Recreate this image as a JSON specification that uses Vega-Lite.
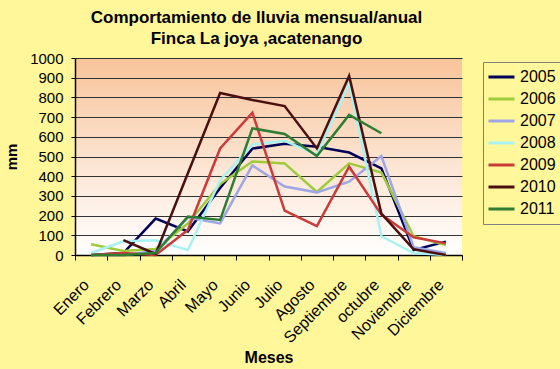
{
  "$schema": "https://vega.github.io/schema/vega-lite/v6.json",
  "width": 387,
  "height": 197,
  "autosize": {"type": "none"},
  "padding": {"left": 75, "top": 58, "right": 98, "bottom": 114},
  "background": "#FFF799",
  "title": {
    "text": ["Comportamiento de lluvia mensual/anual", "Finca La joya ,acatenango"],
    "font": "Liberation Sans",
    "fontSize": 17,
    "fontWeight": "bold",
    "color": "#000000",
    "anchor": "middle",
    "dx": -12,
    "offset": 3,
    "lineHeight": 21
  },
  "config": {
    "view": {
      "stroke": null,
      "fill": {
        "gradient": "linear",
        "x1": 0, "y1": 0, "x2": 0, "y2": 1,
        "stops": [
          {"offset": 0, "color": "#F8C49A"},
          {"offset": 0.5, "color": "#FCE2CE"},
          {"offset": 1, "color": "#FFFFFF"}
        ]
      }
    },
    "axis": {
      "labelFont": "Liberation Sans",
      "titleFont": "Liberation Sans",
      "labelColor": "#000000",
      "titleColor": "#000000",
      "domainColor": "#000000",
      "tickColor": "#000000"
    }
  },
  "data": {
    "values": [
      {"mes": "Enero", "anio": "2005", "mm": 0},
      {"mes": "Febrero", "anio": "2005", "mm": 10},
      {"mes": "Marzo", "anio": "2005", "mm": 185},
      {"mes": "Abril", "anio": "2005", "mm": 120},
      {"mes": "Mayo", "anio": "2005", "mm": 340},
      {"mes": "Junio", "anio": "2005", "mm": 540},
      {"mes": "Julio", "anio": "2005", "mm": 565},
      {"mes": "Agosto", "anio": "2005", "mm": 550},
      {"mes": "Septiembre", "anio": "2005", "mm": 520},
      {"mes": "octubre", "anio": "2005", "mm": 440},
      {"mes": "Noviembre", "anio": "2005", "mm": 25},
      {"mes": "Diciembre", "anio": "2005", "mm": 68},

      {"mes": "Enero", "anio": "2006", "mm": 55},
      {"mes": "Febrero", "anio": "2006", "mm": 20},
      {"mes": "Marzo", "anio": "2006", "mm": 30},
      {"mes": "Abril", "anio": "2006", "mm": 160},
      {"mes": "Mayo", "anio": "2006", "mm": 360},
      {"mes": "Junio", "anio": "2006", "mm": 475},
      {"mes": "Julio", "anio": "2006", "mm": 465},
      {"mes": "Agosto", "anio": "2006", "mm": 320},
      {"mes": "Septiembre", "anio": "2006", "mm": 465},
      {"mes": "octubre", "anio": "2006", "mm": 418},
      {"mes": "Noviembre", "anio": "2006", "mm": 95},
      {"mes": "Diciembre", "anio": "2006", "mm": 50},

      {"mes": "Enero", "anio": "2007", "mm": 0},
      {"mes": "Febrero", "anio": "2007", "mm": 0},
      {"mes": "Marzo", "anio": "2007", "mm": 20},
      {"mes": "Abril", "anio": "2007", "mm": 190},
      {"mes": "Mayo", "anio": "2007", "mm": 160},
      {"mes": "Junio", "anio": "2007", "mm": 455},
      {"mes": "Julio", "anio": "2007", "mm": 348},
      {"mes": "Agosto", "anio": "2007", "mm": 318},
      {"mes": "Septiembre", "anio": "2007", "mm": 372},
      {"mes": "octubre", "anio": "2007", "mm": 502},
      {"mes": "Noviembre", "anio": "2007", "mm": 40},
      {"mes": "Diciembre", "anio": "2007", "mm": 10},

      {"mes": "Enero", "anio": "2008", "mm": 10},
      {"mes": "Febrero", "anio": "2008", "mm": 70},
      {"mes": "Marzo", "anio": "2008", "mm": 75},
      {"mes": "Abril", "anio": "2008", "mm": 25},
      {"mes": "Mayo", "anio": "2008", "mm": 380},
      {"mes": "Junio", "anio": "2008", "mm": 560},
      {"mes": "Julio", "anio": "2008", "mm": 580},
      {"mes": "Agosto", "anio": "2008", "mm": 510},
      {"mes": "Septiembre", "anio": "2008", "mm": 870},
      {"mes": "octubre", "anio": "2008", "mm": 95},
      {"mes": "Noviembre", "anio": "2008", "mm": 10},
      {"mes": "Diciembre", "anio": "2008", "mm": 0},

      {"mes": "Enero", "anio": "2009", "mm": 0},
      {"mes": "Febrero", "anio": "2009", "mm": 10},
      {"mes": "Marzo", "anio": "2009", "mm": 0},
      {"mes": "Abril", "anio": "2009", "mm": 127},
      {"mes": "Mayo", "anio": "2009", "mm": 541},
      {"mes": "Junio", "anio": "2009", "mm": 722},
      {"mes": "Julio", "anio": "2009", "mm": 225},
      {"mes": "Agosto", "anio": "2009", "mm": 147},
      {"mes": "Septiembre", "anio": "2009", "mm": 448},
      {"mes": "octubre", "anio": "2009", "mm": 205},
      {"mes": "Noviembre", "anio": "2009", "mm": 90},
      {"mes": "Diciembre", "anio": "2009", "mm": 59},

      {"mes": "Febrero", "anio": "2010", "mm": 75},
      {"mes": "Marzo", "anio": "2010", "mm": 5},
      {"mes": "Abril", "anio": "2010", "mm": 415},
      {"mes": "Mayo", "anio": "2010", "mm": 822},
      {"mes": "Junio", "anio": "2010", "mm": 787},
      {"mes": "Julio", "anio": "2010", "mm": 756},
      {"mes": "Agosto", "anio": "2010", "mm": 541},
      {"mes": "Septiembre", "anio": "2010", "mm": 909},
      {"mes": "octubre", "anio": "2010", "mm": 210},
      {"mes": "Noviembre", "anio": "2010", "mm": 29},
      {"mes": "Diciembre", "anio": "2010", "mm": 0},

      {"mes": "Enero", "anio": "2011", "mm": 0},
      {"mes": "Febrero", "anio": "2011", "mm": 0},
      {"mes": "Marzo", "anio": "2011", "mm": 10},
      {"mes": "Abril", "anio": "2011", "mm": 195},
      {"mes": "Mayo", "anio": "2011", "mm": 178},
      {"mes": "Junio", "anio": "2011", "mm": 643},
      {"mes": "Julio", "anio": "2011", "mm": 614},
      {"mes": "Agosto", "anio": "2011", "mm": 502},
      {"mes": "Septiembre", "anio": "2011", "mm": 711},
      {"mes": "octubre", "anio": "2011", "mm": 618}
    ]
  },
  "mark": {"type": "line", "strokeWidth": 2.5, "strokeJoin": "miter"},
  "encoding": {
    "x": {
      "field": "mes",
      "type": "nominal",
      "sort": ["Enero", "Febrero", "Marzo", "Abril", "Mayo", "Junio", "Julio", "Agosto", "Septiembre", "octubre", "Noviembre", "Diciembre"],
      "scale": {"type": "band", "paddingInner": 0, "paddingOuter": 0},
      "axis": {
        "title": "Meses",
        "titleFontSize": 16,
        "titleFontWeight": "bold",
        "titlePadding": 4,
        "labelAngle": -45,
        "labelAlign": "right",
        "labelBaseline": "middle",
        "labelFontSize": 16,
        "labelPadding": 22,
        "labelOffset": -5,
        "tickBand": "extent",
        "tickSize": 5,
        "grid": false,
        "domainWidth": 1.5
      }
    },
    "y": {
      "field": "mm",
      "type": "quantitative",
      "scale": {"domain": [0, 1000]},
      "axis": {
        "title": "mm",
        "titleFontSize": 15,
        "titleFontWeight": "bold",
        "titlePadding": 10,
        "format": "d",
        "values": [0, 100, 200, 300, 400, 500, 600, 700, 800, 900, 1000],
        "labelFontSize": 15,
        "labelPadding": 8,
        "tickSize": 4,
        "grid": true,
        "gridColor": "#333333",
        "gridWidth": 1.2,
        "gridOpacity": 1,
        "domainWidth": 1.5
      }
    },
    "color": {
      "field": "anio",
      "type": "nominal",
      "scale": {
        "domain": ["2005", "2006", "2007", "2008", "2009", "2010", "2011"],
        "range": ["#00005A", "#9FCB3A", "#9EA6E6", "#A8F2F2", "#CC3A3A", "#4A1010", "#2E7D32"]
      },
      "legend": {
        "title": null,
        "orient": "none",
        "legendX": 408,
        "legendY": 4,
        "direction": "vertical",
        "symbolType": "stroke",
        "symbolSize": 676,
        "symbolStrokeWidth": 3,
        "labelFont": "Liberation Sans",
        "labelFontSize": 16,
        "labelColor": "#000000",
        "clipHeight": 22,
        "rowPadding": 0,
        "labelOffset": 4,
        "padding": 4,
        "strokeColor": "#808080",
        "fillColor": "#FFF799"
      }
    }
  }
}
